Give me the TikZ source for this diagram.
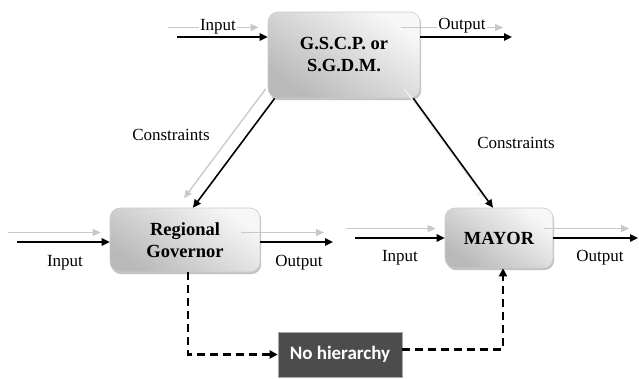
\documentclass[tikz,border=0pt]{standalone}
\usepackage{fontspec}
\setmainfont{Liberation Serif}
\newfontfamily\romanface{Liberation Serif}
\newfontfamily\tagsans{Carlito}
\usetikzlibrary{arrows.meta,shadows}
\definecolor{tagfill}{RGB}{76,76,76}
\definecolor{ghostgray}{RGB}{200,200,200}

\begin{document}
\begin{tikzpicture}[x=1pt,y=-1pt,
  unit/.style={draw=gray!40, line width=0.6pt, rounded corners=10pt,
    top color=gray!6, bottom color=gray!55, shading angle=-35,
    drop shadow={shadow xshift=1.2pt, shadow yshift=-2.2pt, fill=gray!80, opacity=0.6},
    inner sep=0pt, align=center,
    font=\romanface\fontsize{18.5}{22}\selectfont\bfseries},
  tagbox/.style={draw=gray!70, line width=0.6pt, fill=tagfill, text=white,
    inner sep=0pt, font=\tagsans\fontsize{19}{22}\selectfont\bfseries},
  flow/.style={draw=black, line width=1.6pt, -{Triangle[length=8pt,width=7.5pt]}},
  ghost/.style={draw=ghostgray, line width=1.3pt, -{Triangle[length=8pt,width=7pt]},
    transform canvas={xshift=-9pt, yshift=9.5pt}},
  faint/.style={ghost, draw=gray!12},
  link/.style={draw=black, line width=2.2pt, dash pattern=on 8pt off 5pt,
    -{Triangle[length=8pt,width=8pt]}},
  lbl/.style={inner sep=1pt, font=\romanface\fontsize{17}{19}\selectfont},
]
\useasboundingbox (0,0) rectangle (639,378);

% decision levels
\node[unit, minimum width=152pt, minimum height=86pt] (gscp) at (344,55) {G.S.C.P. or\\S.G.D.M.};
\node[unit, minimum width=150pt, minimum height=64pt] (rg) at (185,240) {Regional\\Governor};
\node[unit, minimum width=108pt, minimum height=60pt] (mayor) at (499,238) {MAYOR};
\node[tagbox, minimum width=124pt, minimum height=45pt] (nh) at (340,354.5) {No hierarchy};

% free ends of the input/output arrows
\coordinate (gin) at (177,37);
\coordinate (gout) at (512,37);
\coordinate (rin) at (17,242);
\coordinate (rout) at (333,242);
\coordinate (min) at (355,238);
\coordinate (mout) at (638,238);

% light offset copies of the flows
\draw[ghost] (gin) -- (gin -| gscp.west);
\draw[ghost] ([xshift=-10pt]gscp.east |- gout) -- (gout);
\draw[ghost] ([xshift=7pt]gscp.south west) -- ([xshift=8pt]rg.north);
\draw[faint] ([xshift=-7pt]gscp.south east) -- ([xshift=-6pt]mayor.north);
\draw[ghost] (rin) -- (rin -| rg.west);
\draw[ghost] ([xshift=-10pt]rg.east |- rout) -- (rout);
\draw[ghost] (min) -- (min -| mayor.west);
\draw[ghost] (mayor.east |- mout) -- (mout);

% labels
\node[lbl, fill=white] (tin) at (218,27) {Input};
\node[lbl, fill=white] (tout) at (462,26) {Output};
\node[lbl] (cl) at (171,135) {Constraints};
\node[lbl] (cr) at (516,143) {Constraints};
\node[lbl] (rinl) at (65,263) {Input};
\node[lbl] (routl) at (299,263) {Output};
\node[lbl] (minl) at (400,258) {Input};
\node[lbl] (moutl) at (600,258) {Output};

% main flows
\draw[flow] (gin) -- (gin -| gscp.west);
\draw[flow] (gscp.east |- gout) -- (gout);
\draw[flow] ([xshift=7pt]gscp.south west) -- ([xshift=8pt]rg.north);
\draw[flow] ([xshift=-7pt]gscp.south east) -- ([xshift=-6pt]mayor.north);
\draw[flow] (rin) -- (rin -| rg.west);
\draw[flow] (rg.east |- rout) -- (rout);
\draw[flow] (min) -- (min -| mayor.west);
\draw[flow] (mayor.east |- mout) -- (mout);

% no-hierarchy link
\draw[link] ([xshift=3pt]rg.south) |- (nh.west);
\draw[link] ([yshift=5pt]nh.east) -| ([xshift=4pt]mayor.south);
\end{tikzpicture}
\end{document}
